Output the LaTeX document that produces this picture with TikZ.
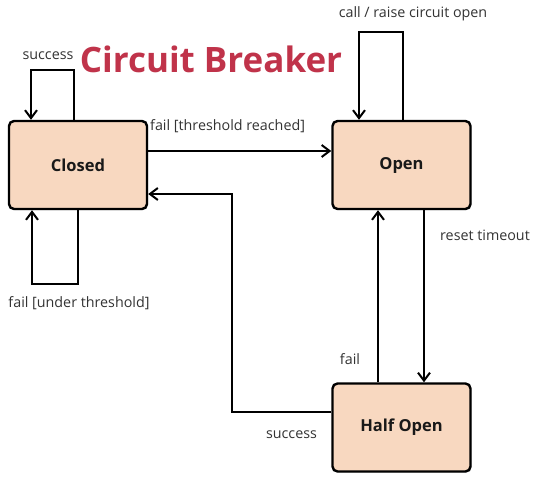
\documentclass[tikz,border=0pt]{standalone}
\usepackage{fontspec}
\setmainfont{Open Sans}
\usetikzlibrary{arrows.meta,shadows,calc}
\definecolor{boxfill}{HTML}{F8D8C0}
\definecolor{titlered}{HTML}{C0334A}
\definecolor{labelgray}{HTML}{333333}
\begin{document}
\begin{tikzpicture}[x=1pt,y=-1pt,
  statebox/.style={draw=black, line width=2.4pt, fill=boxfill, rounded corners=5pt,
    minimum width=138pt, minimum height=88pt, inner sep=0pt,
    font=\bfseries\fontsize{16.5}{19}\selectfont, text=black!90,
    drop shadow={shadow xshift=1pt, shadow yshift=-1.2pt, opacity=0.35}},
  conn/.style={line width=2pt, draw=black},
  arr/.style={conn, -{Straight Barb[length=8pt,width=12pt,line width=2pt]}},
  lbl/.style={font=\fontsize{14.3}{17}\selectfont, text=labelgray, inner sep=0pt}]
\useasboundingbox (0,0) rectangle (550,491);
\fill[white] (0,0) rectangle (550,491);

\node[statebox] (closed) at (78,165) {Closed};
\node[statebox] (open) at (401.5,165) {Open};
\node[statebox] (half) at (401.5,427.5) {Half Open};

\node[font=\bfseries\fontsize{35}{40}\selectfont, text=titlered, inner sep=0pt] (title) at (211,59) {Circuit Breaker};

% success loop on Closed
\coordinate (s1) at ($(closed.north)+(-4,0)$);
\coordinate (s2) at ($(closed.north)+(-47,0)$);
\draw[arr] (s1) -- ++(0,-50) -| (s2);
\node[lbl] (lsuccess) at (48,56) {success};

% fail under threshold loop
\coordinate (u1) at (closed.south);
\coordinate (u2) at ($(closed.south)+(-46,0)$);
\draw[arr] (u1) -- ++(0,74) -| (u2);
\node[lbl] (lunder) at (79,303) {fail [under threshold]};

% call loop on Open
\coordinate (c1) at ($(open.north)+(1.5,0)$);
\coordinate (c2) at ($(open.north)+(-42.5,0)$);
\draw[arr] (c1) -- ++(0,-88) -| (c2);
\node[lbl] (lcall) at (413,14) {call / raise circuit open};

% fail threshold reached
\draw[arr] ($(closed.east)+(0,-14)$) -- ($(open.west)+(0,-14)$);
\node[lbl, anchor=west] (lreached) at (150,126) {fail [threshold reached]};

% reset timeout
\draw[arr] ($(open.south)+(22.5,0)$) -- ($(half.north)+(22.5,0)$);
\node[lbl] (lreset) at (485,235) {reset timeout};

% fail from half open back to open
\draw[arr] ($(half.north)+(-23.5,0)$) -- ($(open.south)+(-23.5,0)$);
\node[lbl] (lfail) at (350,359) {fail};

% success from half open to closed
\coordinate (r1) at ($(half.west)+(0,-15.5)$);
\draw[arr] (r1) -- (232,412) |- ($(closed.east)+(0,29)$);
\node[lbl] (lsucc2) at (291.5,435) {success};
\end{tikzpicture}
\end{document}
